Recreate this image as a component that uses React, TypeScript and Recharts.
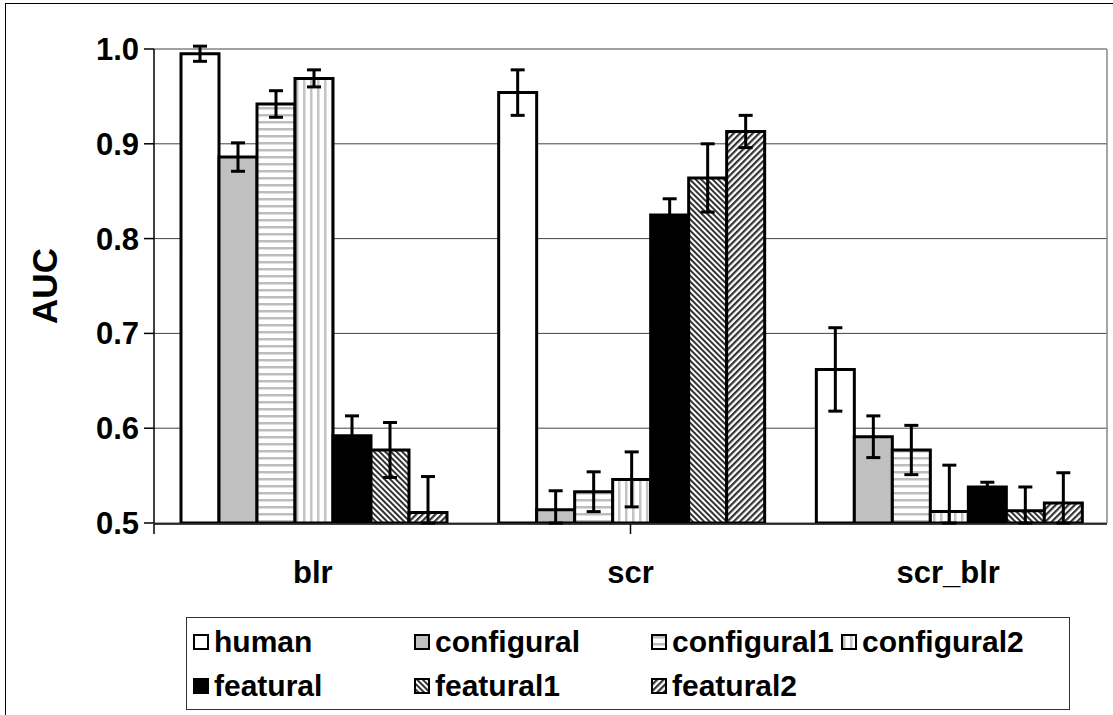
import { Bar, BarChart, CartesianGrid, ErrorBar, XAxis, YAxis } from "recharts";

const categories = ["blr", "scr", "scr_blr"];

const human = [0.995, 0.954, 0.662];
const humanErr = [0.008, 0.024, 0.044];
const configural = [0.886, 0.514, 0.591];
const configuralErr = [0.015, 0.02, 0.022];
const configural1 = [0.942, 0.533, 0.577];
const configural1Err = [0.014, 0.021, 0.026];
const configural2 = [0.969, 0.546, 0.512];
const configural2Err = [0.009, 0.029, 0.049];
const featural = [0.592, 0.825, 0.538];
const featuralErr = [0.021, 0.017, 0.005];
const featural1 = [0.577, 0.864, 0.513];
const featural1Err = [0.029, 0.036, 0.025];
const featural2 = [0.511, 0.913, 0.521];
const featural2Err = [0.038, 0.017, 0.032];

const yTicks = [0.5, 0.6, 0.7, 0.8, 0.9, 1.0];
const edgeTicks = [0, 1, 2, 3];
const yMin = yTicks[0];

const FONT = '"Liberation Sans", Arial, sans-serif';

const series = [
  { key: "human", values: human, errors: humanErr, fill: "#ffffff" },
  { key: "configural", values: configural, errors: configuralErr, fill: "#c0c0c0" },
  { key: "configural1", values: configural1, errors: configural1Err, fill: "hlines" },
  { key: "configural2", values: configural2, errors: configural2Err, fill: "vlines" },
  { key: "featural", values: featural, errors: featuralErr, fill: "#000000" },
  { key: "featural1", values: featural1, errors: featural1Err, fill: "diag1" },
  { key: "featural2", values: featural2, errors: featural2Err, fill: "diag2" },
];

// error bars are cut at the bottom of the axis, like the plot area clips them
const rows = categories.map((cat, i) => {
  const row: Record<string, string | number | number[]> = { cat };
  series.forEach((s) => {
    const v = s.values[i];
    const e = s.errors[i];
    row[s.key] = v;
    row[s.key + "_err"] = [Math.min(e, v - yMin), e];
  });
  return row;
});

function fillFor(fill: string, prefix: string) {
  return fill.startsWith("#") ? fill : `url(#${prefix}-${fill})`;
}

function Patterns({ prefix }: { prefix: string }) {
  return (
    <defs>
      <pattern id={`${prefix}-hlines`} width="7" height="7" patternUnits="userSpaceOnUse">
        <rect width="7" height="7" fill="#fff" />
        <rect y="2" width="7" height="2.5" fill="#bdbdbd" />
      </pattern>
      <pattern id={`${prefix}-vlines`} width="7" height="7" patternUnits="userSpaceOnUse">
        <rect width="7" height="7" fill="#fff" />
        <rect x="2" width="2.5" height="7" fill="#c4c4c4" />
      </pattern>
      <pattern id={`${prefix}-diag1`} width="4" height="4" patternUnits="userSpaceOnUse" patternTransform="rotate(-45)">
        <rect width="4" height="4" fill="#fff" />
        <rect width="2" height="4" fill="#333" />
      </pattern>
      <pattern id={`${prefix}-diag2`} width="4.5" height="4.5" patternUnits="userSpaceOnUse" patternTransform="rotate(45)">
        <rect width="4.5" height="4.5" fill="#fff" />
        <rect width="2.2" height="4.5" fill="#333" />
      </pattern>
    </defs>
  );
}

function CategoryTick({ x, y, payload }: { x?: number; y?: number; payload?: { value: string } }) {
  return (
    <text x={x} y={y} dy="0.71em" textAnchor="middle" fontFamily={FONT} fontSize={31} fontWeight={700} fill="#000">
      {payload?.value}
    </text>
  );
}

function NoLabel() {
  return <g />;
}

function AucLabel({ viewBox }: { viewBox?: { x: number; y: number; width: number; height: number } }) {
  if (!viewBox) return null;
  const cx = viewBox.x + 39;
  const cy = viewBox.y + viewBox.height / 2;
  return (
    <text
      x={cx}
      y={cy}
      transform={`rotate(-90, ${cx}, ${cy})`}
      textAnchor="middle"
      dominantBaseline="central"
      fontFamily={FONT}
      fontSize={35}
      fontWeight={700}
      fill="#000"
    >
      AUC
    </text>
  );
}

function ChartLegend() {
  return (
    <div
      style={{
        position: "absolute",
        left: 186,
        top: 617,
        width: 884,
        height: 93,
        border: "1.5px solid #333",
        background: "#fff",
        fontFamily: FONT,
        fontWeight: 700,
        fontSize: 30,
        display: "grid",
        gridTemplateColumns: "221px 237px 190px 230px",
        gridAutoRows: "44px",
        paddingLeft: 6,
        paddingTop: 2,
        boxSizing: "border-box",
      }}
    >
      {series.map((s) => (
        <div key={s.key} style={{ display: "flex", alignItems: "center", gap: 5, whiteSpace: "nowrap" }}>
          <svg width={16} height={16} style={{ flexShrink: 0 }}>
            <Patterns prefix={`lg-${s.key}`} />
            <rect x={1} y={1} width={14} height={14} fill={fillFor(s.fill, `lg-${s.key}`)} stroke="#000" strokeWidth={2} />
          </svg>
          <span>{s.key}</span>
        </div>
      ))}
    </div>
  );
}

export default function App() {
  return (
    <div style={{ position: "absolute", left: 0, top: 0, width: 1113, height: 715, overflow: "hidden", background: "#fff" }}>
      <div
        style={{
          position: "absolute",
          left: 5,
          top: 3,
          width: 1200,
          height: 800,
          borderLeft: "1.5px solid #000",
          borderTop: "1.5px solid #000",
        }}
      />
      <div style={{ position: "absolute", left: 0, top: 0 }}>
        <BarChart
          width={1113}
          height={715}
          data={rows}
          margin={{ top: 49, right: 6, left: 5, bottom: 190 }}
          barCategoryGap="8.5%"
          barGap={0}
        >
          <Patterns prefix="ch" />
          <CartesianGrid vertical={false} stroke="#444" strokeWidth={1} />
          <CartesianGrid
            horizontal={false}
            stroke="#888"
            strokeWidth={1.5}
            verticalCoordinatesGenerator={({ offset }: { offset: { left: number; width: number } }) => [offset.left + offset.width]}
          />
          <XAxis
            xAxisId="edges"
            type="number"
            domain={[0, 3]}
            ticks={edgeTicks}
            allowDataOverflow
            height={1}
            axisLine={{ stroke: "#000", strokeWidth: 1.5 }}
            tick={<NoLabel />}
            tickSize={10}
            tickLine={{ stroke: "#000", strokeWidth: 1.5 }}
          />
          <XAxis
            dataKey="cat"
            height={1}
            axisLine={false}
            tickLine={false}
            tickSize={0}
            tickMargin={38}
            interval={0}
            tick={<CategoryTick />}
          />
          <YAxis
            domain={[0.5, 1]}
            ticks={yTicks}
            allowDataOverflow
            width={149}
            tickSize={10}
            tickMargin={5}
            axisLine={{ stroke: "#000", strokeWidth: 1.5 }}
            tickLine={{ stroke: "#000", strokeWidth: 1.5 }}
            tick={{ fontSize: 31, fontWeight: 700, fill: "#000", fontFamily: FONT }}
            tickFormatter={(v: number) => v.toFixed(1)}
            label={<AucLabel />}
          />
          {series.map((s) => (
            <Bar
              key={s.key}
              dataKey={s.key}
              fill={fillFor(s.fill, "ch")}
              stroke="#000"
              strokeWidth={3}
              isAnimationActive={false}
            >
              <ErrorBar dataKey={s.key + "_err"} width={7} stroke="#000" strokeWidth={3} />
            </Bar>
          ))}
        </BarChart>
      </div>
      <ChartLegend />
    </div>
  );
}
